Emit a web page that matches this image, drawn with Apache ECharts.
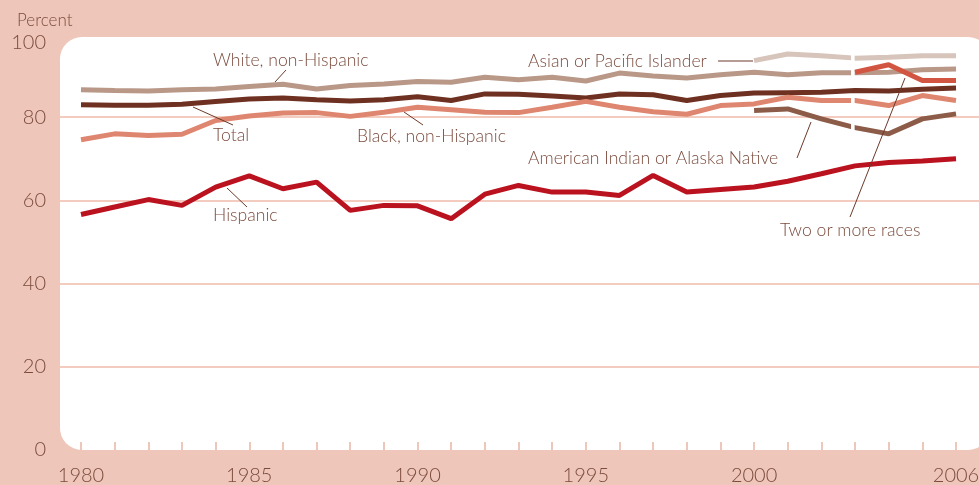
<!DOCTYPE html>
<html>
<head>
<meta charset="utf-8">
<script src="https://cdn.jsdelivr.net/npm/echarts@6/dist/echarts.min.js"></script>
<style>
html,body{margin:0;padding:0;background:#EEC7BA;}
#chart{width:979px;height:485px;}
</style>
</head>
<body>
<div id="chart"></div>
<script>
const years = [1980,1981,1982,1983,1984,1985,1986,1987,1988,1989,1990,1991,1992,1993,1994,1995,1996,1997,1998,1999,2000,2001,2002,2003,2004,2005,2006];
const whiteNH = [86.6,86.4,86.3,86.6,86.8,87.4,87.9,86.8,87.6,88.0,88.6,88.4,89.6,89.0,89.6,88.7,90.6,89.9,89.4,90.2,90.8,90.2,90.7,90.7,90.8,91.4,91.6];
const total = [83.0,82.9,82.9,83.1,83.8,84.4,84.6,84.2,83.9,84.2,84.9,84.0,85.6,85.5,85.1,84.6,85.6,85.4,84.0,85.2,85.8,85.9,86.0,86.4,86.3,86.7,87.0];
const blackNH = [74.6,76.0,75.6,75.9,79.2,80.3,81.0,81.1,80.2,81.2,82.4,81.8,81.2,81.1,82.4,83.8,82.4,81.3,80.7,82.8,83.2,84.8,84.0,84.0,82.8,85.2,84.0];
const hispanic = [56.6,58.4,60.2,58.8,63.2,65.9,62.8,64.4,57.6,58.8,58.7,55.6,61.5,63.6,62.0,62.0,61.2,66.0,62.0,62.6,63.2,64.6,66.4,68.3,69.1,69.5,70.0];
const asianYears = [2000,2001,2002,2003,2004,2005,2006];
const asianPI = [93.6,95.2,94.8,94.2,94.4,94.8,94.8];
const amIndYears = [2000,2001,2002,2003,2004,2005,2006];
const amIndAN = [81.6,82.0,79.6,77.5,76.0,79.6,80.8];
const twoYears = [2003,2004,2005,2006];
const twoOrMore = [90.8,92.6,88.8,88.8];
const xLabelYears = [1980,1985,1990,1995,2000,2006];
const yTicks = [0,20,40,60,80,100];
const breakYear = 2003;

function pairs(xs, vs){ return xs.map((x,i)=>[x, vs[i]]); }
function valAt(xs, vs, x){ return vs[xs.indexOf(x)]; }

const gapData = [
  [breakYear, valAt(years, whiteNH, breakYear)],
  [breakYear, valAt(years, blackNH, breakYear)],
  [breakYear, valAt(asianYears, asianPI, breakYear)],
  [breakYear, valAt(amIndYears, amIndAN, breakYear)]
];

const txt = '#7B4B3D';
const font = 'Lato, "Open Sans", sans-serif';
const grid = '#F3CCBF';
const pink = '#EEC7BA';

function lineSeries(name, data, color){
  return {name, type:'line', data, symbol:'none', smooth:false,
    lineStyle:{width:5, color, cap:'butt', join:'bevel'}, z:3};
}

function label(text, x, y){
  return {type:'text', x, y, z:100, style:{text, fill:txt, font:'300 17.6px ' + font, textVerticalAlign:'middle'}};
}
function leader(x1,y1,x2,y2){
  return {type:'line', z:100, shape:{x1,y1,x2,y2}, style:{stroke:'#6B3A2A', lineWidth:1}};
}

const chart = echarts.init(document.getElementById('chart'), null, {renderer:'canvas'});
chart.setOption({
  animation:false,
  backgroundColor:pink,
  title:{text:'Percent', left:12, top:7, textStyle:{fontFamily:font, fontSize:17, fontWeight:300, color:txt}},
  grid:{left:60, right:0, top:34, bottom:35, containLabel:false, outerBoundsMode:'none'},
  xAxis:{type:'value', min:1979.376, max:2006.683,
    axisLine:{show:true, lineStyle:{color:'rgba(255,255,255,0)', width:0}},
    axisTick:{show:true, inside:true, length:8, customValues:years, lineStyle:{color:pink, width:2}},
    axisLabel:{customValues:xLabelYears, formatter:v=>String(v), color:txt, fontFamily:font, fontWeight:300, fontSize:20, margin:16},
    splitLine:{show:false}},
  yAxis:{type:'value', min:0, max:100, interval:20,
    axisLine:{show:false}, axisTick:{show:false},
    axisLabel:{color:txt, fontFamily:font, fontWeight:300, fontSize:20, margin:14,
      formatter:v=> v===100 ? '{a|100}' : String(v),
      rich:{a:{color:txt, fontFamily:font, fontWeight:300, fontSize:20, padding:[18,0,0,0]}}},
    splitLine:{show:true, lineStyle:{color:['transparent',grid,grid,grid,grid,'transparent'], width:2}}},
  graphic:[
    {type:'rect', z:-10, shape:{x:60, y:37, width:930, height:413, r:22}, style:{fill:'#FFFFFF'}},
    label('White, non-Hispanic', 213, 60), leader(286,70,275,82),
    label('Total', 213, 135), leader(193,107,233,125),
    label('Black, non-Hispanic', 357, 136), leader(404,112,423,125),
    label('Hispanic', 213, 215), leader(227,188,247,207),
    label('Asian or Pacific Islander', 528, 61), leader(718,61,753,61),
    label('American Indian or Alaska Native', 528, 158), leader(811,122,797,158),
    label('Two or more races', 780, 230), leader(905,78,850,217)
  ],
  series:[
    lineSeries('White, non-Hispanic', pairs(years, whiteNH), '#B99888'),
    lineSeries('Total', pairs(years, total), '#6E3020'),
    lineSeries('Black, non-Hispanic', pairs(years, blackNH), '#DE8670'),
    lineSeries('Hispanic', pairs(years, hispanic), '#BA121E'),
    lineSeries('Asian or Pacific Islander', pairs(asianYears, asianPI), '#D7C4BA'),
    lineSeries('American Indian or Alaska Native', pairs(amIndYears, amIndAN), '#8C5C48'),
    {type:'custom', z:4, data:gapData, silent:true,
      renderItem:(params, api)=>{
        const p = api.coord([api.value(0), api.value(1)]);
        return {type:'rect', shape:{x:p[0]-4, y:p[1]-6, width:3.6, height:12}, style:{fill:'#FFFFFF'}};
      }},
    Object.assign(lineSeries('Two or more races', pairs(twoYears, twoOrMore), '#D25541'), {z:5})
  ]
});
</script>
</body>
</html>
